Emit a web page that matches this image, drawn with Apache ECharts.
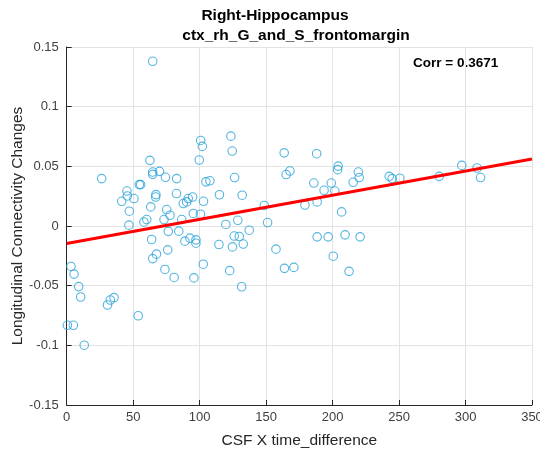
<!DOCTYPE html>
<html>
<head>
<meta charset="utf-8">
<script src="https://cdn.jsdelivr.net/npm/echarts@6/dist/echarts.min.js"></script>
<style>
html,body{margin:0;padding:0;background:#fff;}
#chart{width:540px;height:454px;}
</style>
</head>
<body>
<div id="chart"></div>
<script>
// ---- data ----
var titleLine1 = 'Right-Hippocampus';
var titleLine2 = 'ctx_rh_G_and_S_frontomargin';
var corrText = 'Corr = 0.3671';
var xAxisName = 'CSF X time_difference';
var yAxisName = 'Longitudinal Connectivity Changes';

var xTickLabels = ['0','50','100','150','200','250','300','350'];
var yTickLabels = ['-0.15','-0.1','-0.05','0','0.05','0.1','0.15'];

var csfX = [
  64.7,100.8,102.0,123.5,124.5,163.6,188.0,62.6,99.7,204.2,
  203.8,297.2,308.7,311.3,219.4,220.0,242.6,244.8,250.6,280.2,
  215.5,167.9,165.1,185.9,199.0,193.6,201.7,126.3,104.7,107.7,
  26.3,64.7,64.7,69.8,74.3,82.7,54.6,55.6,45.3,45.6,
  41.4,50.6,67.1,66.9,82.6,94.7,91.4,90.2,87.7,102.9,
  114.9,132.0,148.6,179.2,188.4,206.8,63.2,47.1,75.2,77.7,
  73.2,60.2,58.1,46.8,86.5,95.2,100.6,128.7,119.7,151.1,
  137.3,126.0,129.8,188.4,196.7,209.4,220.7,114.5,124.7,132.8,
  157.4,200.5,63.9,76.4,84.3,88.9,92.7,97.2,97.2,67.5,
  64.7,76.0,102.7,73.9,80.8,95.7,122.6,131.6,163.8,170.9,
  212.4,3.2,5.5,9.0,10.5,30.7,32.8,35.6,53.8,0.5,
  5.0,13.2
];
var connChange = [
  0.138,0.0717,0.0667,0.0753,0.0628,0.0613,0.0606,0.0550,0.0553,0.0502,
  0.0472,0.0508,0.0486,0.0406,0.0452,0.0406,0.0416,0.0397,0.0400,0.0416,
  0.0366,0.0461,0.0431,0.0360,0.0360,0.0299,0.0293,0.0406,0.0370,0.0379,
  0.0397,0.0452,0.0433,0.0458,0.0408,0.0397,0.0347,0.0347,0.0293,0.0252,
  0.0207,0.0230,0.0263,0.0243,0.0272,0.0243,0.0230,0.0202,0.0188,0.0207,
  0.0262,0.0258,0.0172,0.0176,0.0202,0.0118,0.0160,0.0124,0.0138,0.0090,
  0.0054,0.0054,0.0034,0.0007,0.0054,0.0105,0.0099,0.0048,0.0013,0.0029,
  -0.0035,-0.0084,-0.0088,-0.0091,-0.0091,-0.0074,-0.0091,-0.0155,-0.0175,-0.0151,
  -0.0194,-0.0253,-0.0113,-0.0045,-0.0043,-0.0127,-0.0102,-0.0116,-0.0144,-0.0236,
  -0.0273,-0.0200,-0.0320,-0.0364,-0.0431,-0.0435,-0.0374,-0.0509,-0.0355,-0.0347,
  -0.0380,-0.0339,-0.0403,-0.0508,-0.0595,-0.0662,-0.0620,-0.0600,-0.0752,-0.0832,
  -0.0832,-0.0999
];
var fitX = [0, 350];
var fitY = [-0.0146, 0.0561];

// ---- chart ----
var FONT = "'Liberation Sans', Arial, Helvetica, sans-serif";
var chart = echarts.init(document.getElementById('chart'), null, {renderer:'canvas'});
var scatterData = csfX.map(function(x,i){ return [x, connChange[i]]; });
var fitData = fitX.map(function(x,i){ return [x, fitY[i]]; });

function nearestLabel(labels, v){
  var best = labels[0], bd = Infinity;
  labels.forEach(function(l){ var d = Math.abs(parseFloat(l) - v); if(d < bd){bd = d; best = l;} });
  return best;
}

chart.setOption({
  backgroundColor: '#ffffff',
  animation: false,
  grid: {left: 66.7, right: 8, top: 47, bottom: 49, containLabel: false, outerBoundsMode: 'none'},
  xAxis: {
    type: 'value', min: 0, max: 350, interval: 50,
    name: xAxisName, nameLocation: 'middle', nameGap: 28, nameMoveOverlap: false,
    nameTextStyle: {fontFamily: FONT, fontSize: 15.5, color: '#262626'},
    axisLine: {show: true, onZero: false, lineStyle: {color: '#262626', width: 1}},
    axisTick: {show: true, inside: true, length: 5, lineStyle: {color: '#262626'}},
    axisLabel: {fontFamily: FONT, fontSize: 13, color: '#404040', margin: 6, hideOverlap: false,
      formatter: function(v){ return nearestLabel(xTickLabels, v); }},
    splitLine: {show: true, lineStyle: {color: '#e3e3e3', width: 1}}
  },
  yAxis: {
    type: 'value', min: -0.15, max: 0.15, interval: 0.05,
    name: yAxisName, nameLocation: 'middle', nameGap: 41, nameRotate: 90, nameMoveOverlap: false,
    nameTextStyle: {fontFamily: FONT, fontSize: 15.5, color: '#262626'},
    axisLine: {show: true, onZero: false, lineStyle: {color: '#262626', width: 1}},
    axisTick: {show: true, inside: true, length: 5, lineStyle: {color: '#262626'}},
    axisLabel: {fontFamily: FONT, fontSize: 13, color: '#404040', margin: 8,
      formatter: function(v){ return nearestLabel(yTickLabels, v); }},
    splitLine: {show: true, lineStyle: {color: '#e3e3e3', width: 1}}
  },
  series: [
    {
      type: 'scatter', data: scatterData, symbol: 'circle', symbolSize: 8.5,
      itemStyle: {color: 'rgba(0,0,0,0)', borderColor: '#2aa2d8', borderWidth: 1.1},
      z: 2
    },
    {
      type: 'line', data: fitData, showSymbol: false, symbol: 'none',
      lineStyle: {color: '#ff0000', width: 3}, z: 3
    }
  ],
  graphic: [
    {type: 'text', x: 275, y: 16, style: {text: titleLine1, font: 'bold 15.5px ' + FONT, fill: '#000', align: 'center', verticalAlign: 'middle'}},
    {type: 'text', x: 296, y: 36, style: {text: titleLine2, font: 'bold 15.5px ' + FONT, fill: '#000', align: 'center', verticalAlign: 'middle'}},
    {type: 'text', x: 413, y: 63, style: {text: corrText, font: 'bold 13.5px ' + FONT, fill: '#000', align: 'left', verticalAlign: 'middle'}}
  ]
});
</script>
</body>
</html>
